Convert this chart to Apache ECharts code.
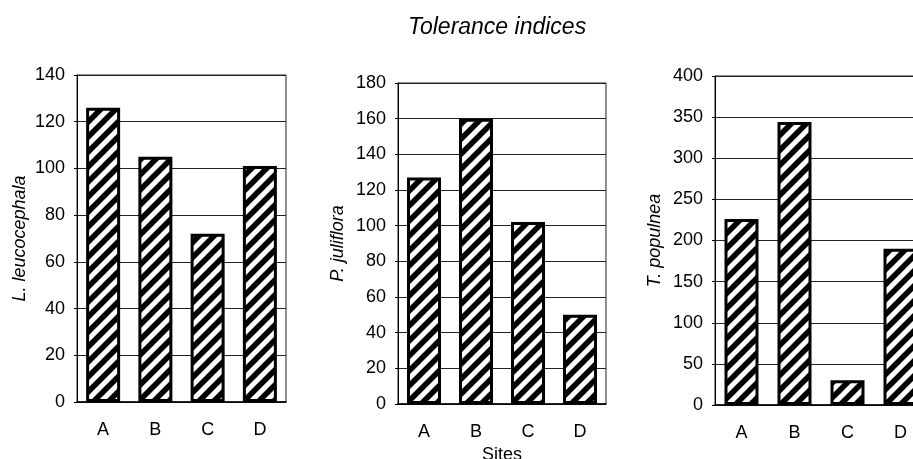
<!DOCTYPE html>
<html>
<head>
<meta charset="utf-8">
<script src="https://cdn.jsdelivr.net/npm/echarts@6/dist/echarts.min.js"></script>
<style>
  html, body { margin: 0; padding: 0; background: #fff; }
  #chart { width: 913px; height: 459px; }
</style>
</head>
<body>
<div id="chart"></div>
<script>
// data
const sites = ['A', 'B', 'C', 'D']
const leucocephala = [126, 105, 72, 101]
const juliflora = [127, 160, 102, 50]
const populnea = [226, 344, 30, 190]

const speciesNames = ['L. leucocephala', 'P. juliflora', 'T. populnea']
const yMax = [140, 180, 400]
const yStep = [20, 20, 50]

const FONT = '"Liberation Sans", Arial, sans-serif'

// "/" hatch pattern
function makeHatch() {
  const size = 15
  const c = document.createElement('canvas')
  c.width = size
  c.height = size
  const ctx = c.getContext('2d')
  ctx.fillStyle = '#fff'
  ctx.fillRect(0, 0, size, size)
  ctx.strokeStyle = '#000'
  ctx.lineWidth = 5.6
  ctx.lineCap = 'square'
  for (let k = -1; k <= 2; k++) {
    ctx.beginPath()
    ctx.moveTo(k * size - size, size * 2)
    ctx.lineTo(k * size + size, 0)
    ctx.stroke()
  }
  return c
}
const hatch = makeHatch()

const grids = [
  { left: 77, top: 75, width: 209, height: 327 },
  { left: 398, top: 83, width: 208, height: 321 },
  { left: 715, top: 76, width: 212, height: 329 }
]
const nameGaps = [48, 51, 51]

const chart = echarts.init(document.getElementById('chart'))

const option = {
  animation: false,
  backgroundColor: '#fff',
  title: {
    text: 'Tolerance indices',
    left: 403,
    top: 11,
    textStyle: {
      fontFamily: FONT,
      fontStyle: 'italic',
      fontWeight: 'normal',
      fontSize: 23,
      color: '#000'
    }
  },
  grid: grids.map(g => Object.assign({
    show: true,
    borderColor: '#222',
    borderWidth: 1,
    backgroundColor: 'transparent',
    containLabel: false,
    outerBoundsMode: 'none'
  }, g)),
  xAxis: [0, 1, 2].map(i => ({
    type: 'category',
    gridIndex: i,
    data: sites,
    name: i === 1 ? 'Sites' : '',
    nameLocation: 'middle',
    nameGap: 37,
    nameTextStyle: { fontFamily: FONT, fontSize: 18, color: '#000' },
    axisLine: { lineStyle: { color: '#000', width: 1.5 } },
    axisTick: { show: false },
    axisLabel: { fontFamily: FONT, fontSize: 18, color: '#000', margin: 19 }
  })),
  yAxis: [0, 1, 2].map(i => ({
    type: 'value',
    gridIndex: i,
    min: 0,
    max: yMax[i],
    interval: yStep[i],
    name: speciesNames[i],
    nameLocation: 'middle',
    nameRotate: 90,
    nameGap: nameGaps[i],
    nameTextStyle: { fontFamily: FONT, fontSize: 18, fontStyle: 'italic', color: '#000' },
    axisLine: { show: true, lineStyle: { color: '#000', width: 1 } },
    axisTick: { show: true, length: 3, lineStyle: { color: '#000' } },
    axisLabel: { fontFamily: FONT, fontSize: 18, color: '#000', margin: 12 },
    splitLine: { show: true, lineStyle: { color: '#222', width: 1 } }
  })),
  series: [leucocephala, juliflora, populnea].map((d, i) => ({
    type: 'bar',
    xAxisIndex: i,
    yAxisIndex: i,
    data: d,
    barWidth: 34,
    itemStyle: {
      color: { image: hatch, repeat: 'repeat' },
      borderColor: '#000',
      borderWidth: 3
    }
  }))
}

chart.setOption(option)
</script>
</body>
</html>
